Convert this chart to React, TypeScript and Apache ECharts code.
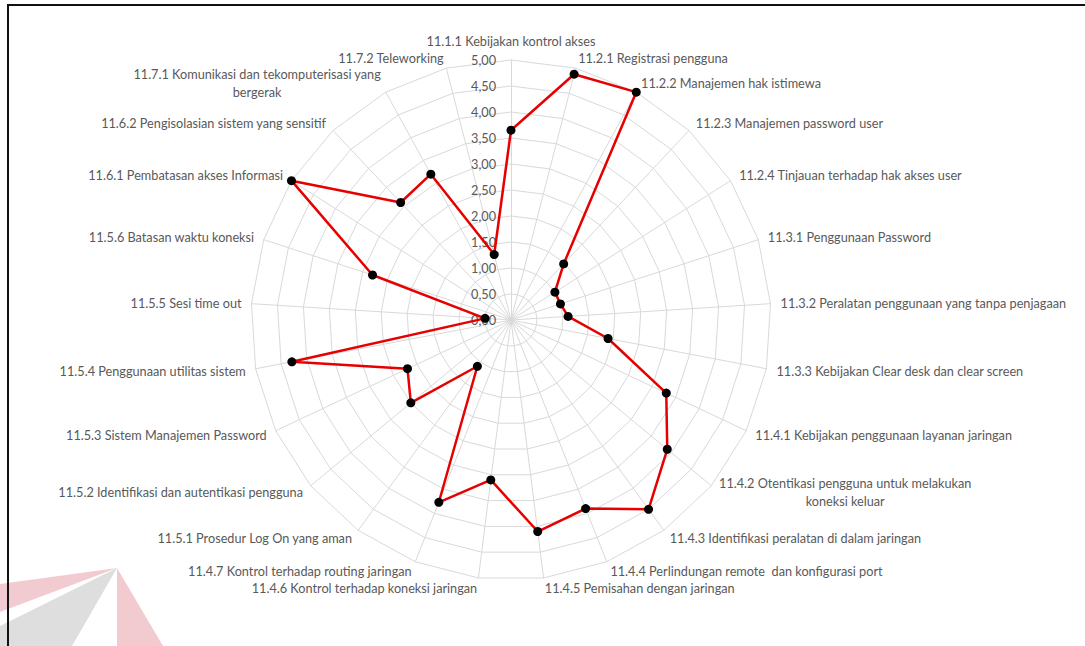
import React, { useEffect, useRef } from 'react';
import * as echarts from 'echarts';

const categories: string[] = [
  '11.1.1 Kebijakan kontrol akses',
  '11.2.1 Registrasi pengguna',
  '11.2.2 Manajemen hak istimewa',
  '11.2.3 Manajemen password user',
  '11.2.4 Tinjauan terhadap hak akses user',
  '11.3.1 Penggunaan Password',
  '11.3.2 Peralatan penggunaan yang tanpa penjagaan',
  '11.3.3 Kebijakan Clear desk dan clear screen',
  '11.4.1 Kebijakan penggunaan layanan jaringan',
  '11.4.2 Otentikasi pengguna untuk melakukan\nkoneksi keluar',
  '11.4.3 Identifikasi peralatan di dalam jaringan',
  '11.4.4 Perlindungan remote  dan konfigurasi port',
  '11.4.5 Pemisahan dengan jaringan',
  '11.4.6 Kontrol terhadap koneksi jaringan',
  '11.4.7 Kontrol terhadap routing jaringan',
  '11.5.1 Prosedur Log On yang aman',
  '11.5.2 Identifikasi dan autentikasi pengguna',
  '11.5.3 Sistem Manajemen Password',
  '11.5.4 Penggunaan utilitas sistem',
  '11.5.5 Sesi time out',
  '11.5.6 Batasan waktu koneksi',
  '11.6.1 Pembatasan akses Informasi',
  '11.6.2 Pengisolasian sistem yang sensitif',
  '11.7.1 Komunikasi dan tekomputerisasi yang\nbergerak',
  '11.7.2 Teleworking',
];

const values: number[] = [
  3.65, 4.88, 5.0, 1.48, 1.0, 1.0, 1.1, 1.9, 3.3, 3.9,
  4.5, 3.9, 4.1, 3.1, 3.77, 1.1, 2.5, 2.2, 4.29, 0.5,
  2.8, 5.0, 3.1, 3.2, 1.3,
];

const axisMin = 0;
const axisMax = 5;
const splitCount = 10;

const textColor = '#595959';
const fontFamily = 'Lato, "Open Sans", sans-serif';
const fontSize = 12.7;

export default function App() {
  const ref = useRef<HTMLDivElement>(null);
  useEffect(() => {
    if (!ref.current) return;
    const chart = echarts.init(ref.current, null, { renderer: 'svg' });
    const n = categories.length;
    // ECharts lays radar indicators counter-clockwise; the reference runs clockwise.
    const order = [0];
    for (let i = n - 1; i >= 1; i--) order.push(i);

    const indicator = order.map((k, j) => {
      const ind: any = { name: categories[k], min: axisMin, max: axisMax };
      if (j === 0) {
        ind.axisLabel = {
          show: true,
          margin: 15,
          color: textColor,
          fontFamily,
          fontSize,
          formatter: (v: number) => v.toFixed(2).replace('.', ','),
        };
      }
      return ind;
    });

    chart.setOption({
      animation: false,
      backgroundColor: '#ffffff',
      graphic: [
        {
          type: 'polygon',
          shape: { points: [[117, 568], [0, 584], [0, 612]] },
          style: { fill: '#f2cbd0' },
          z: 0,
        },
        {
          type: 'polygon',
          shape: { points: [[117, 568], [0, 626], [0, 646], [72, 646]] },
          style: { fill: '#dedede' },
          z: 0,
        },
        {
          type: 'polygon',
          shape: { points: [[117, 568], [117, 646], [163, 646]] },
          style: { fill: '#f2cbd0' },
          z: 0,
        },
        {
          type: 'rect',
          shape: { x: 8, y: 5, width: 1100, height: 700 },
          style: { fill: 'none', stroke: '#111', lineWidth: 2 },
          z: 10,
        },
      ],
      radar: {
        center: [511, 320],
        radius: 260,
        startAngle: 90,
        shape: 'polygon',
        splitNumber: splitCount,
        indicator,
        axisName: {
          color: textColor,
          fontFamily,
          fontSize,
          lineHeight: 18,
          formatter: (value: string) =>
            value
              .split('\n')
              .map((s) => `{a|${s}}`)
              .join('\n'),
          rich: {
            a: {
              align: 'center',
              color: textColor,
              fontFamily,
              fontSize,
              lineHeight: 18,
            },
          },
        },
        nameGap: 10,
        axisLine: { lineStyle: { color: '#d9d9d9', width: 1 } },
        splitLine: { lineStyle: { color: '#d9d9d9', width: 1 } },
        splitArea: { show: false },
        axisTick: { show: false },
        axisLabel: { show: false },
      },
      series: [
        {
          type: 'radar',
          symbol: 'circle',
          symbolSize: 9,
          itemStyle: { color: '#000000' },
          lineStyle: { color: '#e60000', width: 2.5 },
          data: [{ value: order.map((k) => values[k]) }],
        },
      ],
    });
    return () => chart.dispose();
  }, []);
  return (
    <div
      ref={ref}
      style={{ position: 'fixed', left: 0, top: 0, width: 1085, height: 646 }}
    />
  );
}
